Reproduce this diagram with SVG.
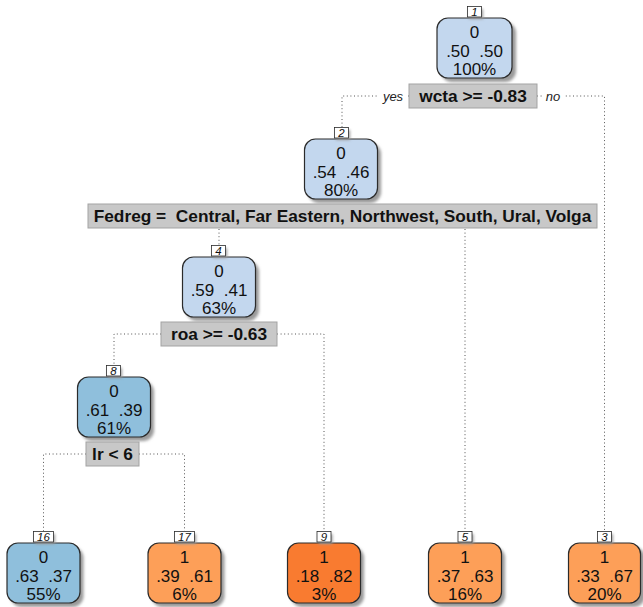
<svg xmlns="http://www.w3.org/2000/svg" width="643" height="607" viewBox="0 0 643 607">
  <defs>
    <filter id="shadow" x="-20%" y="-20%" width="150%" height="150%">
      <feGaussianBlur stdDeviation="1.6"/>
    </filter>
    <style>
      .node { stroke: #2b2b2b; stroke-width: 1.2; }
      .shd { fill: #9a9a9a; filter: url(#shadow); }
      .b1 { fill: #c3d7ee; }
      .b2 { fill: #8fbfdc; }
      .o1 { fill: #fd9f58; }
      .o2 { fill: #f97b30; }
      .lbl { fill: #ffffff; stroke: #2b2b2b; stroke-width: 0.8; }
      .lbltxt { font-family: "Liberation Sans", Arial, sans-serif; font-size: 11.5px; font-style: italic; fill: #111; text-anchor: middle; }
      .ntxt { font-family: "Liberation Sans", Arial, sans-serif; font-size: 17px; fill: #111; text-anchor: middle; white-space: pre; }
      .split { fill: #c8c8c8; stroke: #a3a3a3; stroke-width: 1; }
      .stxt { font-family: "Liberation Sans", Arial, sans-serif; font-size: 17.3px; font-weight: bold; fill: #111; text-anchor: middle; white-space: pre; }
      .yn { font-family: "Liberation Sans", Arial, sans-serif; font-size: 13px; font-style: italic; fill: #222; text-anchor: middle; }
      .edge { fill: none; stroke: #555; stroke-width: 1; stroke-dasharray: 1 2.6; }
    </style>
  </defs>
  <rect width="643" height="607" fill="#ffffff"/>

  <!-- connectors -->
  <g id="connectors">
    <path class="edge" d="M409,96 H342 V127"/>
    <path class="edge" d="M537,96 H604.5 V531"/>
    <path class="edge" d="M219,229 V245"/>
    <path class="edge" d="M465,229 V531"/>
    <path class="edge" d="M161,334 H114 V365"/>
    <path class="edge" d="M277,334 H324 V531"/>
    <path class="edge" d="M86,454 H43.5 V531"/>
    <path class="edge" d="M139,454 H184.5 V531"/>
    <rect x="379" y="88" width="28" height="16" fill="#ffffff"/>
    <text class="yn" x="393" y="101">yes</text>
    <rect x="542" y="88" width="22" height="16" fill="#ffffff"/>
    <text class="yn" x="553" y="101">no</text>
  </g>

  <!-- node 1 -->
  <g id="node1">
    <rect class="shd" x="441" y="22" width="75" height="60" rx="11"/>
    <rect class="node b1" x="437" y="18" width="75" height="60" rx="11"/>
    <rect class="shd" x="469" y="9" width="14" height="10"/>
    <rect class="lbl" x="467.5" y="6.5" width="14" height="10.5"/>
    <text class="lbltxt" x="474.5" y="15.8">1</text>
    <text class="ntxt" x="474.5" y="38">0</text>
    <text class="ntxt" x="474.5" y="56.5">.50  .50</text>
    <text class="ntxt" x="474.5" y="75">100%</text>
    <rect class="split" x="409" y="84" width="128" height="24"/>
    <text class="stxt" x="473" y="102.2">wcta &gt;= -0.83</text>
  </g>

  <!-- node 2 -->
  <g id="node2">
    <rect class="shd" x="308" y="143" width="73" height="60" rx="11"/>
    <rect class="node b1" x="304.5" y="139" width="73" height="60" rx="11"/>
    <rect class="shd" x="336" y="130" width="14" height="10"/>
    <rect class="lbl" x="334.5" y="127.5" width="14" height="10.5"/>
    <text class="lbltxt" x="341.5" y="136.8">2</text>
    <text class="ntxt" x="341" y="159">0</text>
    <text class="ntxt" x="341" y="177.5">.54  .46</text>
    <text class="ntxt" x="341" y="196">80%</text>
    <rect class="split" x="88" y="204" width="509" height="24"/>
    <text class="stxt" x="342.5" y="222.2">Fedreg =  Central, Far Eastern, Northwest, South, Ural, Volga</text>
  </g>

  <!-- node 4 -->
  <g id="node4">
    <rect class="shd" x="186" y="261" width="73" height="60" rx="11"/>
    <rect class="node b1" x="182.5" y="257" width="73" height="60" rx="11"/>
    <rect class="shd" x="213" y="248" width="14" height="10"/>
    <rect class="lbl" x="211.5" y="245.5" width="14" height="10.5"/>
    <text class="lbltxt" x="218.5" y="254.8">4</text>
    <text class="ntxt" x="219" y="277">0</text>
    <text class="ntxt" x="219" y="295.5">.59  .41</text>
    <text class="ntxt" x="219" y="314">63%</text>
    <rect class="split" x="161" y="322" width="116" height="24"/>
    <text class="stxt" x="219" y="340.2">roa &gt;= -0.63</text>
  </g>

  <!-- node 8 -->
  <g id="node8">
    <rect class="shd" x="81" y="381" width="73" height="60" rx="11"/>
    <rect class="node b2" x="77.5" y="377" width="73" height="60" rx="11"/>
    <rect class="shd" x="108" y="368" width="14" height="10"/>
    <rect class="lbl" x="106.5" y="365.5" width="14" height="10.5"/>
    <text class="lbltxt" x="113.5" y="374.8">8</text>
    <text class="ntxt" x="114" y="397">0</text>
    <text class="ntxt" x="114" y="415.5">.61  .39</text>
    <text class="ntxt" x="114" y="434">61%</text>
    <rect class="split" x="86" y="442" width="53" height="24"/>
    <text class="stxt" x="112.5" y="460.2">lr &lt; 6</text>
  </g>

  <!-- node 16 -->
  <g id="node16">
    <rect class="shd" x="10.5" y="547" width="73" height="60" rx="11"/>
    <rect class="node b2" x="7" y="543" width="73" height="60" rx="11"/>
    <rect class="shd" x="35" y="534" width="20" height="10"/>
    <rect class="lbl" x="33.5" y="531.5" width="20" height="10.5"/>
    <text class="lbltxt" x="43.5" y="540.8">16</text>
    <text class="ntxt" x="43.5" y="563">0</text>
    <text class="ntxt" x="43.5" y="581.5">.63  .37</text>
    <text class="ntxt" x="43.5" y="600">55%</text>
  </g>

  <!-- node 17 -->
  <g id="node17">
    <rect class="shd" x="151.5" y="547" width="73" height="60" rx="11"/>
    <rect class="node o1" x="148" y="543" width="73" height="60" rx="11"/>
    <rect class="shd" x="176" y="534" width="20" height="10"/>
    <rect class="lbl" x="174.5" y="531.5" width="20" height="10.5"/>
    <text class="lbltxt" x="184.5" y="540.8">17</text>
    <text class="ntxt" x="184.5" y="563">1</text>
    <text class="ntxt" x="184.5" y="581.5">.39  .61</text>
    <text class="ntxt" x="184.5" y="600">6%</text>
  </g>

  <!-- node 9 -->
  <g id="node9">
    <rect class="shd" x="291" y="547" width="73" height="60" rx="11"/>
    <rect class="node o2" x="287.5" y="543" width="73" height="60" rx="11"/>
    <rect class="shd" x="318.5" y="534" width="14" height="10"/>
    <rect class="lbl" x="317" y="531.5" width="14" height="10.5"/>
    <text class="lbltxt" x="324" y="540.8">9</text>
    <text class="ntxt" x="324" y="563">1</text>
    <text class="ntxt" x="324" y="581.5">.18  .82</text>
    <text class="ntxt" x="324" y="600">3%</text>
  </g>

  <!-- node 5 -->
  <g id="node5">
    <rect class="shd" x="432" y="547" width="73" height="60" rx="11"/>
    <rect class="node o1" x="428.5" y="543" width="73" height="60" rx="11"/>
    <rect class="shd" x="459.5" y="534" width="14" height="10"/>
    <rect class="lbl" x="458" y="531.5" width="14" height="10.5"/>
    <text class="lbltxt" x="465" y="540.8">5</text>
    <text class="ntxt" x="465" y="563">1</text>
    <text class="ntxt" x="465" y="581.5">.37  .63</text>
    <text class="ntxt" x="465" y="600">16%</text>
  </g>

  <!-- node 3 -->
  <g id="node3">
    <rect class="shd" x="572" y="547" width="73" height="60" rx="11"/>
    <rect class="node o1" x="568.5" y="543" width="72" height="60" rx="11"/>
    <rect class="shd" x="599" y="534" width="14" height="10"/>
    <rect class="lbl" x="597.5" y="531.5" width="14" height="10.5"/>
    <text class="lbltxt" x="604.5" y="540.8">3</text>
    <text class="ntxt" x="604.5" y="563">1</text>
    <text class="ntxt" x="604.5" y="581.5">.33  .67</text>
    <text class="ntxt" x="604.5" y="600">20%</text>
  </g>
</svg>
